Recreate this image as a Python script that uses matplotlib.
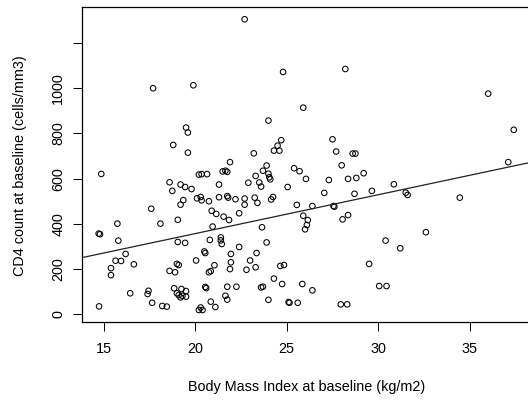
import numpy as np
import matplotlib
matplotlib.use("Agg")
import matplotlib.pyplot as plt

plt.rcParams['font.family'] = ['Liberation Sans', 'DejaVu Sans']

# BMI at baseline (kg/m2)
bmi = [17.7, 19.9, 19.5, 19.6, 18.8, 19.6, 21.9, 22.7, 24.8, 28.2,
       25.9, 24.0, 24.7, 24.5, 24.3, 24.6, 23.2, 27.5, 27.7, 28.6,
       28.75, 28.0, 23.9, 23.7, 25.4, 25.7, 36.0, 37.4, 37.1, 21.5,
       21.65, 21.75, 14.87, 20.2, 20.35, 20.65, 24.0, 24.05, 24.1, 23.3,
       26.05, 22.9, 23.5, 23.6, 25.05, 27.3, 28.35, 28.8, 29.2, 18.6,
       18.75, 19.2, 19.45, 19.8, 21.3, 20.1, 20.3, 20.35, 20.75, 21.3,
       21.75, 21.8, 19.35, 19.2, 17.6, 20.9, 21.15, 21.55, 21.85, 22.2,
       22.7, 22.7, 23.25, 23.4, 24.15, 24.25, 27.05, 28.7, 29.65, 30.85,
       31.5, 31.6, 34.45, 25.55, 26.4, 27.55, 27.6, 15.75, 18.1, 19.05,
       20.95, 22.4, 25.9, 26.15, 26.1, 26.0, 28.05, 28.35, 23.65, 32.6,
       30.4, 31.2, 14.73, 14.8, 15.8, 19.05, 19.45, 20.8, 21.4, 21.4,
       21.45, 22.4, 23.9, 16.2, 20.5, 20.55, 21.95, 23.35, 15.65, 15.95,
       16.65, 15.4, 15.4, 19.0, 19.1, 20.05, 21.05, 21.95, 21.9, 23.0,
       23.3, 22.8, 24.65, 24.85, 29.5, 20.75, 20.85, 18.6, 18.9, 24.3,
       24.75, 25.85, 26.4, 30.05, 30.45, 20.55, 20.6, 21.75, 22.25, 23.6,
       23.7, 18.85, 19.25, 19.5, 19.0, 19.1, 19.3, 19.5, 19.2, 17.45,
       17.4, 16.45, 21.65, 21.75, 24.0, 25.1, 25.15, 25.6, 27.95, 28.3,
       20.85, 21.1, 17.65, 18.2, 18.45, 20.3, 20.2, 20.4, 14.75]

# CD4 count at baseline (cells/mm3)
cd4 = [1000, 1013, 826, 804, 749, 715, 673, 1305, 1072, 1085,
       914, 857, 770, 746, 724, 724, 712, 774, 720, 711,
       711, 659, 658, 635, 646, 633, 976, 816, 673, 632,
       635, 630, 621, 618, 620, 620, 622, 606, 597, 612,
       599, 582, 583, 565, 563, 594, 599, 603, 624, 584,
       546, 574, 563, 554, 574, 513, 519, 504, 500, 518,
       523, 516, 505, 485, 467, 458, 444, 432, 417, 509,
       512, 485, 516, 493, 508, 519, 537, 533, 546, 575,
       538, 528, 516, 484, 479, 479, 476, 401, 401, 418,
       388, 447, 436, 417, 395, 376, 420, 439, 385, 363,
       326, 292, 357, 354, 326, 320, 316, 329, 340, 327,
       311, 298, 318, 267, 278, 271, 267, 271, 237, 236,
       221, 204, 173, 223, 218, 238, 217, 230, 200, 238,
       208, 197, 214, 218, 223, 186, 191, 192, 186, 158,
       134, 134, 106, 125, 125, 121, 116, 122, 122, 119,
       122, 115, 112, 103, 93, 85, 82, 78, 75, 104,
       90, 93, 82, 65, 64, 54, 51, 51, 44, 44,
       56, 32, 51, 37, 34, 30, 19, 19, 35]

# fitted line (intercept, slope) as drawn in the original
fit_intercept = 13.0
fit_slope = 17.2

x_ticks = [15, 20, 25, 30, 35]
y_ticks = [0, 200, 400, 600, 800, 1000, 1200]
y_ticklabels = ['0', '200', '400', '600', '800', '1000', '']

fig = plt.figure(figsize=(5.28, 4.0), dpi=100)
ax = fig.add_axes([0.1547, 0.19425, 0.852, 0.7875])

ax.scatter(bmi, cd4, s=16, facecolors='none', edgecolors='black', linewidths=0.75)
ax.axline((0, fit_intercept), slope=fit_slope, color='#222222', lw=0.9)

ax.set_xlim(13.80, 38.37)
ax.set_ylim(-35.4, 1358)

ax.set_xticks(x_ticks)
ax.set_xticklabels([str(t) for t in x_ticks])
ax.set_yticks(y_ticks)
ax.set_yticklabels(y_ticklabels, rotation=90, va='center')

ax.tick_params(axis='both', direction='out', length=6.3, width=0.75, labelsize=10.4, colors='black')
ax.tick_params(axis='x', pad=8)
ax.tick_params(axis='y', pad=5.5)
for sp in ax.spines.values():
    sp.set_linewidth(0.9)

fig.text(306.6 / 528, 1 - 386.7 / 400, 'Body Mass Index at baseline (kg/m2)',
         ha='center', va='center', fontsize=10.4)
fig.text(20 / 528, 1 - 166 / 400, 'CD4 count at baseline (cells/mm3)',
         ha='center', va='center', rotation=90, fontsize=10.4)

fig.savefig('out.png', dpi=100)
